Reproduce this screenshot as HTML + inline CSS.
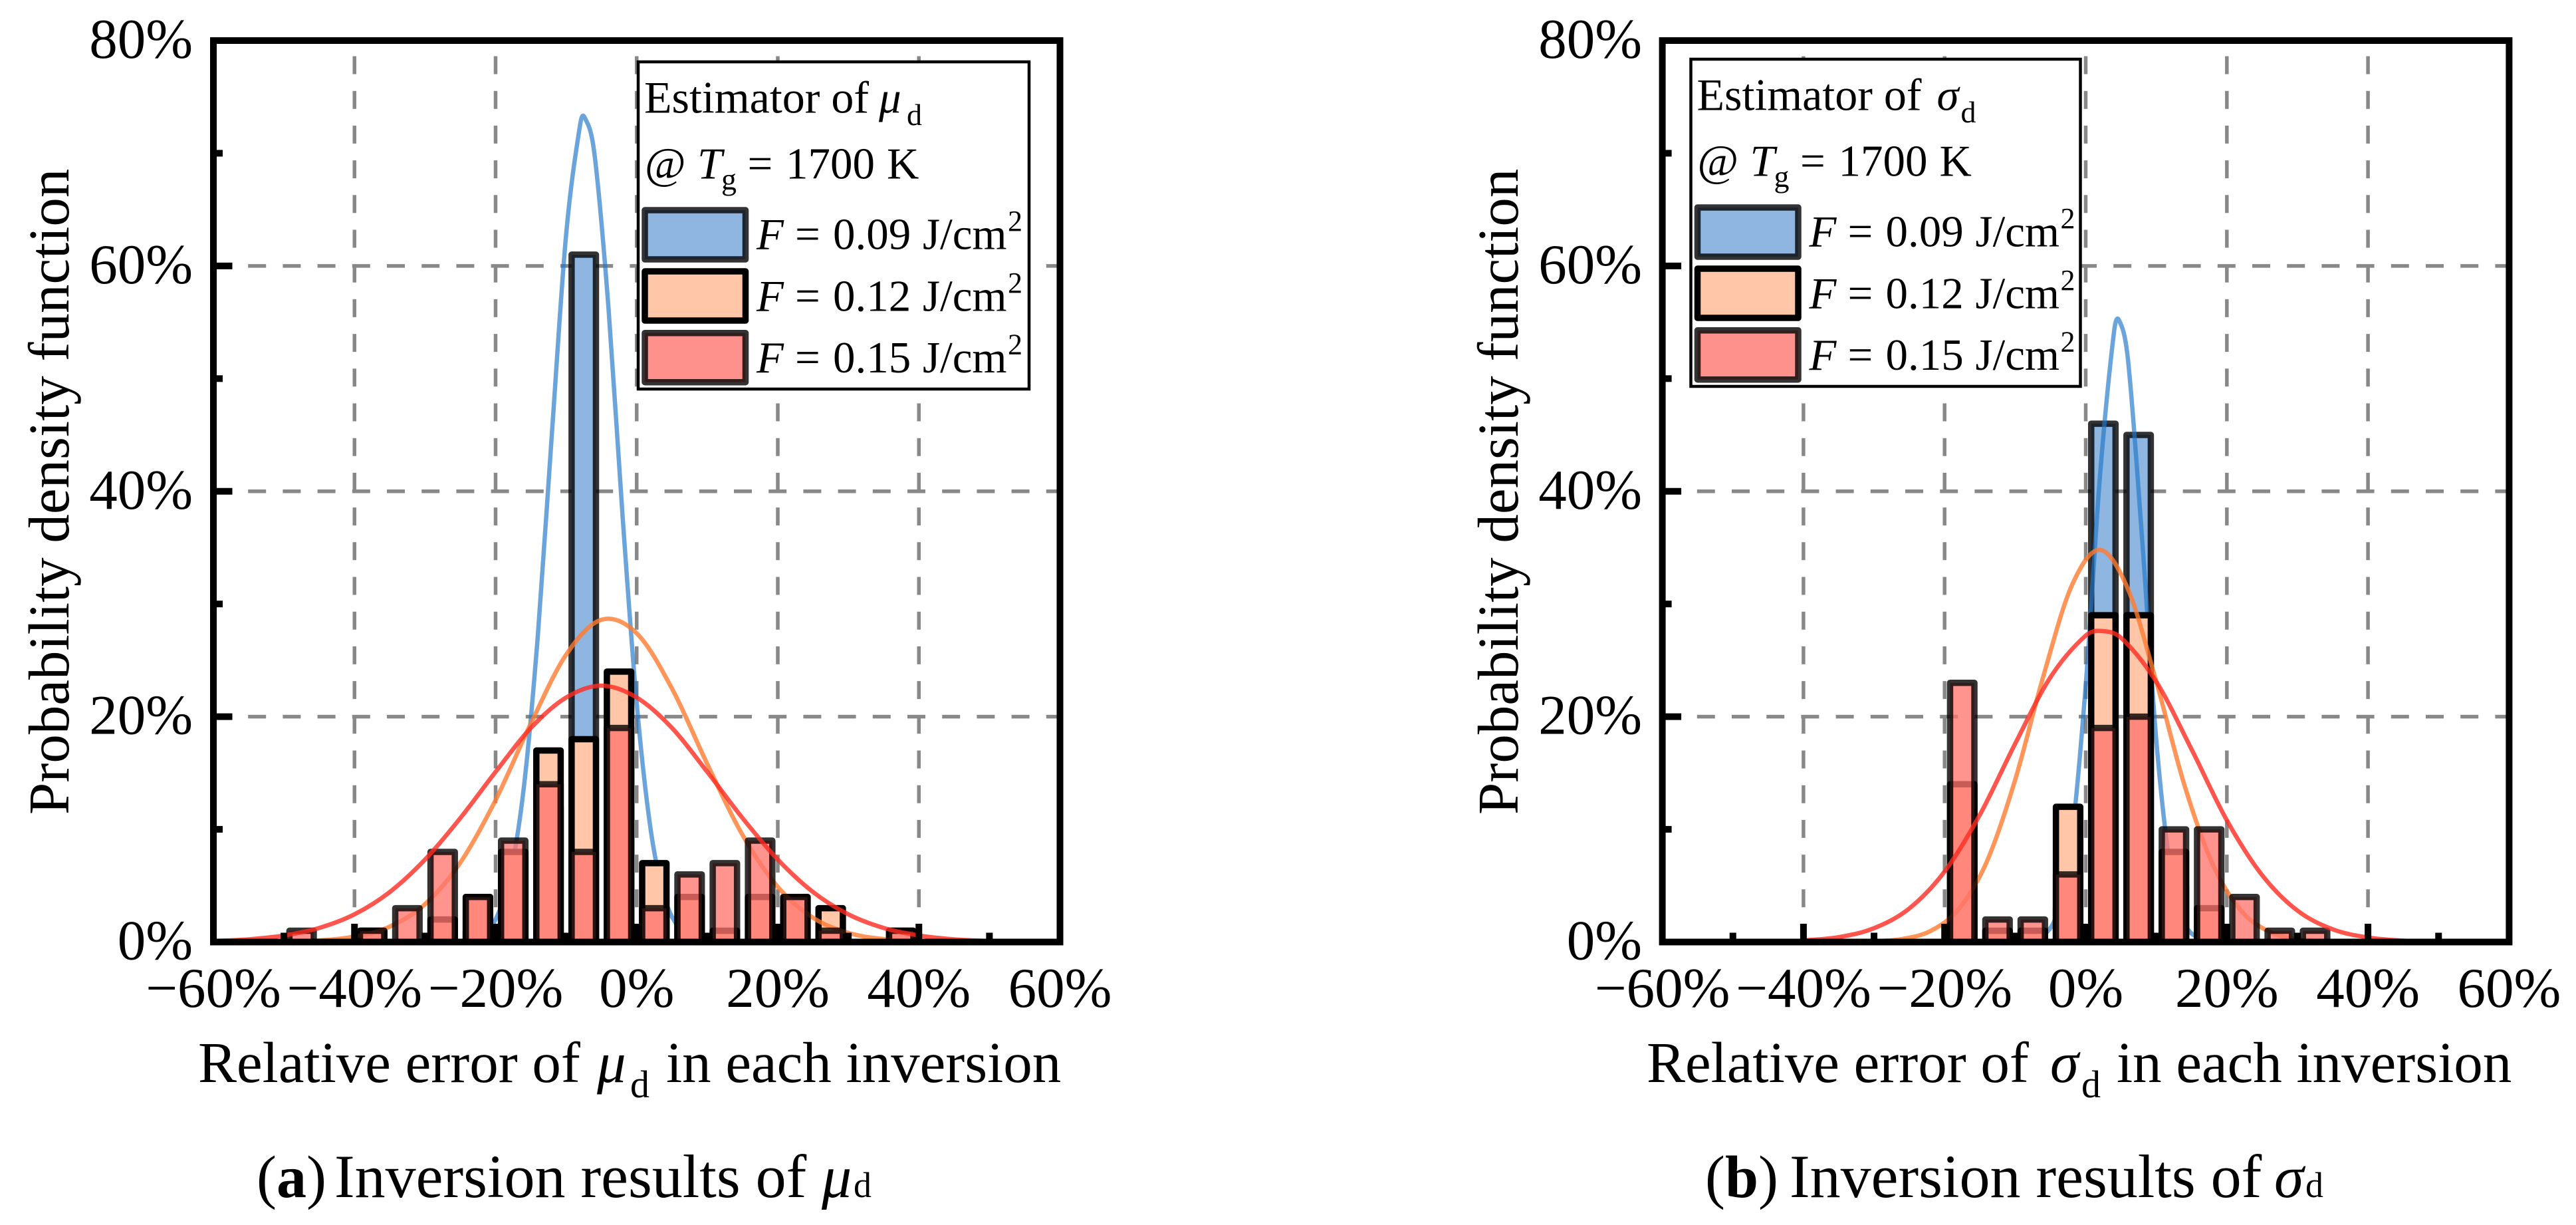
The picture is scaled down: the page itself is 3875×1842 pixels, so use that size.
<!DOCTYPE html>
<html lang="en">
<head>
<meta charset="utf-8">
<title>Inversion results histograms</title>
<style>
html,body{margin:0;padding:0;background:#fff;}
svg{display:block;}
text{font-family:"Liberation Serif","DejaVu Serif",serif;fill:#000;}
.i{font-style:italic;}
.b{font-weight:bold;}
.lg{font-size:67px;}
.sub{font-size:46px;}
.sup{font-size:44px;}
.ax{font-size:87px;}
.tick{font-size:85px;}
.cap{font-size:90px;}
</style>
</head>
<body>
<svg id="figure" xmlns="http://www.w3.org/2000/svg" width="3875" height="1842" viewBox="0 0 3875 1842">
  <rect x="0" y="0" width="3875" height="1842" fill="#fff"/>
  <g id="panel-a"></g>
  <g id="panel-b"></g>

  <text class="ax" transform="translate(103,1225) rotate(-90)">Probability density function</text>
  <g>
    <text class="ax" x="298" y="1627">Relative error of</text>
    <text class="ax i" x="898" y="1627">μ</text>
    <text x="948" y="1650" font-size="58">d</text>
    <text class="ax" x="1002" y="1627">in each inversion</text>
  </g>
  <g>
    <text class="cap" x="386" y="1800">(<tspan class="b">a</tspan>)</text>
    <text class="cap" x="503" y="1800" font-size="92" style="font-size:92px">Inversion results of</text>
    <text class="cap i" x="1236" y="1800">μ</text>
    <text x="1284" y="1800" font-size="54">d</text>
  </g>

  <text class="ax" transform="translate(2283,1225) rotate(-90)">Probability density function</text>
  <g>
    <text class="ax" x="2477" y="1627">Relative error of</text>
    <text class="ax i" x="3084" y="1627">σ</text>
    <text x="3131" y="1650" font-size="58">d</text>
    <text class="ax" x="3184" y="1627">in each inversion</text>
  </g>
  <g>
    <text class="cap" x="2565" y="1800">(<tspan class="b">b</tspan>)</text>
    <text class="cap" x="2692" y="1800" style="font-size:92px">Inversion results of</text>
    <text class="cap i" x="3421" y="1800">σ</text>
    <text x="3468" y="1800" font-size="54">d</text>
  </g>

  <g>
    <rect x="960" y="93" width="588" height="492" fill="#fff" stroke="#000" stroke-width="4.5"/>
    <text class="lg" x="969" y="169.6" style="font-size:68px">Estimator of</text>
    <text class="lg i" x="1322" y="169.6">μ</text>
    <text class="sub" x="1364" y="187.8">d</text>
    <text class="lg" x="970" y="268.4">@</text>
    <text class="lg i" x="1049" y="268.4">T</text>
    <text class="sub" x="1085" y="285">g</text>
    <text class="lg" x="1124.5" y="268.4">=</text>
    <text class="lg" x="1182" y="268.4">1700</text>
    <text class="lg" x="1334" y="268.4">K</text>
    <g>
      <rect x="970" y="316" width="151.5" height="74" fill="#8fb6e0" stroke="#000" stroke-opacity="0.8" stroke-width="9.5" stroke-linejoin="round"/>
      <text class="lg i" x="1138" y="374.5">F</text><text class="lg" x="1196" y="374.5">=</text><text class="lg" x="1253" y="374.5">0.09</text><text class="lg" x="1388" y="374.5">J/cm</text><text class="sup" x="1516" y="347">2</text>
    </g>
    <g>
      <rect x="970" y="408" width="151.5" height="74" fill="#ffc6a8" stroke="#000" stroke-width="9.5" stroke-linejoin="round"/>
      <text class="lg i" x="1138" y="467.4">F</text><text class="lg" x="1196" y="467.4">=</text><text class="lg" x="1253" y="467.4">0.12</text><text class="lg" x="1388" y="467.4">J/cm</text><text class="sup" x="1516" y="440">2</text>
    </g>
    <g>
      <rect x="970" y="500.7" width="151.5" height="74" fill="#ff918c" stroke="#000" stroke-opacity="0.8" stroke-width="9.5" stroke-linejoin="round"/>
      <text class="lg i" x="1138" y="560">F</text><text class="lg" x="1196" y="560">=</text><text class="lg" x="1253" y="560">0.15</text><text class="lg" x="1388" y="560">J/cm</text><text class="sup" x="1516" y="532.6">2</text>
    </g>
  </g>

  <g transform="translate(1583.5,-4)">
    <rect x="960" y="93" width="586" height="492" fill="#fff" stroke="#000" stroke-width="4.5"/>
    <text class="lg" x="969" y="169.6" style="font-size:68px">Estimator of</text>
    <text class="lg i" x="1330" y="169.6">σ</text>
    <text class="sub" x="1366" y="187.8">d</text>
    <text class="lg" x="970" y="268.4">@</text>
    <text class="lg i" x="1049" y="268.4">T</text>
    <text class="sub" x="1085" y="285">g</text>
    <text class="lg" x="1124.5" y="268.4">=</text>
    <text class="lg" x="1182" y="268.4">1700</text>
    <text class="lg" x="1334" y="268.4">K</text>
    <g>
      <rect x="970" y="316" width="151.5" height="74" fill="#8fb6e0" stroke="#000" stroke-opacity="0.8" stroke-width="9.5" stroke-linejoin="round"/>
      <text class="lg i" x="1138" y="374.5">F</text><text class="lg" x="1196" y="374.5">=</text><text class="lg" x="1253" y="374.5">0.09</text><text class="lg" x="1388" y="374.5">J/cm</text><text class="sup" x="1516" y="347">2</text>
    </g>
    <g>
      <rect x="970" y="408" width="151.5" height="74" fill="#ffc6a8" stroke="#000" stroke-width="9.5" stroke-linejoin="round"/>
      <text class="lg i" x="1138" y="467.4">F</text><text class="lg" x="1196" y="467.4">=</text><text class="lg" x="1253" y="467.4">0.12</text><text class="lg" x="1388" y="467.4">J/cm</text><text class="sup" x="1516" y="440">2</text>
    </g>
    <g>
      <rect x="970" y="500.7" width="151.5" height="74" fill="#ff918c" stroke="#000" stroke-opacity="0.8" stroke-width="9.5" stroke-linejoin="round"/>
      <text class="lg i" x="1138" y="560">F</text><text class="lg" x="1196" y="560">=</text><text class="lg" x="1253" y="560">0.15</text><text class="lg" x="1388" y="560">J/cm</text><text class="sup" x="1516" y="532.6">2</text>
    </g>
  </g>
</svg>

<script>
// ---- shared axis data ----
const yMajorTicks = [0, 20, 40, 60, 80];
const yMinorTicks = [10, 30, 50, 70];
const yGridValues = [20, 40, 60];
const xMajorTicks = [-60, -40, -20, 0, 20, 40, 60];
const xMinorTicks = [-50, -30, -10, 10, 30, 50];
const xGridValues = [-40, -20, 0, 20, 40];
const yTickLabels = ['0%', '20%', '40%', '60%', '80%'];
const xTickLabels = ['\u221260%', '\u221240%', '\u221220%', '0%', '20%', '40%', '60%'];
const barWidthPct = 3.45;

// ---- panel (a) histogram values, % ----
const aBinCenters = [-47.5, -37.5, -32.5, -27.5, -22.5, -17.5, -12.5, -7.5, -2.5, 2.5, 7.5, 12.5, 17.5, 22.5, 27.5, 37.5];
const aBarsBlue   = [0, 0, 0, 0, 1, 2, 12, 61, 19, 3, 2, 0, 0, 0, 0, 0];
const aBarsOrange = [0, 1, 0, 2, 4, 8, 17, 18, 24, 7, 4, 1, 4, 4, 3, 1];
const aBarsRed    = [1, 1, 3, 8, 4, 9, 14, 8, 19, 3, 6, 7, 9, 4, 1, 1];

// ---- panel (a) fitted curves ----
const aCurveBlueX = [-24, -22, -20, -18, -16, -14, -12, -10, -8, -7.4, -6, -4, -2, 0, 2, 4, 6, 8, 10];
const aCurveBlueY = [0.14, 0.59, 2.01, 5.76, 13.7, 27.3, 45.3, 62.8, 72.6, 73.2, 70.0, 56.3, 37.8, 21.2, 9.9, 3.86, 1.26, 0.34, 0.08];
const aCurveOrangeX = [-55, -50, -45, -40, -35, -30, -25, -20, -15, -10, -5, 0, 5, 10, 15, 20, 25, 30, 35, 40, 45];
const aCurveOrangeY = [0, 0.03, 0.14, 0.48, 1.37, 3.36, 7.05, 12.6, 19.4, 25.5, 28.6, 27.4, 22.5, 15.8, 9.5, 4.89, 2.15, 0.81, 0.26, 0.07, 0.02];
const aCurveRedX = [-60, -55, -50, -45, -40, -35, -30, -25, -20, -15, -10, -5, 0, 5, 10, 15, 20, 25, 30, 35, 40, 45, 50, 55];
const aCurveRedY = [0.09, 0.24, 0.58, 1.25, 2.46, 4.44, 7.32, 11.0, 15.1, 19.0, 21.7, 22.75, 21.7, 19.0, 15.1, 11.0, 7.32, 4.44, 2.46, 1.25, 0.58, 0.24, 0.09, 0.03];

// ---- panel (b) histogram values, % ----
const bBinCenters = [-17.5, -12.5, -7.5, -2.5, 2.5, 7.5, 12.5, 17.5, 22.5, 27.5, 32.5];
const bBarsBlue   = [0, 0, 0, 3, 46, 45, 5, 1, 0, 0, 0];
const bBarsOrange = [14, 1, 1, 12, 29, 29, 8, 3, 0, 0, 0];
const bBarsRed    = [23, 2, 2, 6, 19, 20, 10, 10, 4, 1, 1];

// ---- panel (b) fitted curves ----
const bCurveBlueX = [-8, -6, -4, -2, 0, 2, 4, 4.7, 6, 8, 10, 12, 14, 16, 18];
const bCurveBlueY = [0.09, 0.57, 2.67, 9.16, 22.8, 41.2, 54.1, 55.2, 51.6, 35.7, 17.9, 6.56, 1.73, 0.34, 0.05];
const bCurveOrangeX = [-30, -26, -22, -18, -14, -10, -6, -2, 2, 6, 10, 14, 18, 22, 26, 30, 34];
const bCurveOrangeY = [0.06, 0.27, 0.98, 2.93, 7.16, 14.4, 23.6, 31.6, 34.8, 31.3, 23.1, 13.9, 6.89, 2.79, 0.92, 0.25, 0.06];
const bCurveRedX = [-40, -35, -30, -25, -20, -15, -10, -5, 0, 2.3, 5, 10, 15, 20, 25, 30, 35, 40, 45, 50];
const bCurveRedY = [0.13, 0.43, 1.23, 2.98, 6.26, 11.3, 17.6, 23.5, 27.2, 27.6, 27.0, 23.1, 17.1, 10.8, 5.93, 2.79, 1.13, 0.40, 0.12, 0.03];

const NS = 'http://www.w3.org/2000/svg';
function make(parent, tag, attrs) {
  const n = document.createElementNS(NS, tag);
  for (const k in attrs) n.setAttribute(k, attrs[k]);
  parent.appendChild(n);
  return n;
}
const plotTop = 61, plotBottom = 1416.5;
function yScale(v) { return plotBottom + (plotTop - plotBottom) * (v / 80); }

function smoothPath(xs, ys, xScale) {
  const px = xs.map(xScale), py = ys.map(yScale), n = px.length, m = [];
  for (let i = 0; i < n; i++) {
    const a = Math.max(0, i - 1), b = Math.min(n - 1, i + 1);
    m.push((py[b] - py[a]) / (px[b] - px[a]));
  }
  let d = 'M' + px[0].toFixed(2) + ' ' + py[0].toFixed(2);
  for (let i = 0; i < n - 1; i++) {
    const h = px[i + 1] - px[i];
    d += ' C' + (px[i] + h / 3).toFixed(2) + ' ' + (py[i] + m[i] * h / 3).toFixed(2) +
         ' ' + (px[i + 1] - h / 3).toFixed(2) + ' ' + (py[i + 1] - m[i + 1] * h / 3).toFixed(2) +
         ' ' + px[i + 1].toFixed(2) + ' ' + py[i + 1].toFixed(2);
  }
  return d;
}

function drawBars(g, centers, values, xScale, fill, strokeOpacity) {
  centers.forEach(function (c, i) {
    const v = values[i];
    if (v <= 0) return;
    const x0 = xScale(c - barWidthPct / 2), x1 = xScale(c + barWidthPct / 2);
    const r = make(g, 'rect', {
      x: x0, y: yScale(v), width: x1 - x0, height: yScale(0) - yScale(v),
      fill: fill, stroke: '#000', 'stroke-opacity': strokeOpacity,
      'stroke-width': 9.5, 'stroke-linejoin': 'round'
    });
    
    
  });
}

function drawCurve(g, xs, ys, xScale, stroke) {
  const p = make(g, 'path', {
    d: smoothPath(xs, ys, xScale), fill: 'none', stroke: stroke,
    'stroke-width': 6.5, 'stroke-linejoin': 'round'
  });
  
  
}

function drawPanel(g, xLeft, xRight, yLabelRight, centers, bars, curves) {
  const xScale = function (v) { return xLeft + (xRight - xLeft) * (v + 60) / 120; };

  // grid
  yGridValues.forEach(function (v) {
    const l = make(g, 'line', { x1: xLeft, x2: xRight, y1: yScale(v), y2: yScale(v),
      stroke: '#888', 'stroke-width': 5.5, 'stroke-dasharray': '27 25.2' });
    
    
  });
  xGridValues.forEach(function (v) {
    const l = make(g, 'line', { x1: xScale(v), x2: xScale(v), y1: plotBottom, y2: plotTop,
      stroke: '#888', 'stroke-width': 5.5, 'stroke-dasharray': '27 25.2' });
    
    
  });

  // series, stacked back to front
  drawBars(g, centers, bars.blue, xScale, '#8fb6e0', 0.8);
  drawCurve(g, curves.blueX, curves.blueY, xScale, 'rgba(34,119,201,0.67)');
  drawBars(g, centers, bars.orange, xScale, '#ffc6a8', 1);
  drawCurve(g, curves.orangeX, curves.orangeY, xScale, 'rgba(255,122,48,0.8)');
  drawBars(g, centers, bars.red, xScale, 'rgba(255,116,110,0.78)', 0.8);
  drawCurve(g, curves.redX, curves.redY, xScale, 'rgba(255,42,32,0.8)');

  // ticks
  yGridValues.forEach(function (v) {
    const t = make(g, 'line', { x1: xLeft, x2: xLeft + 28.5, y1: yScale(v), y2: yScale(v), stroke: '#000', 'stroke-width': 10 });
    
    
  });
  yMinorTicks.forEach(function (v) {
    const t = make(g, 'line', { x1: xLeft, x2: xLeft + 14, y1: yScale(v), y2: yScale(v), stroke: '#000', 'stroke-width': 10 });
    
    
  });
  xGridValues.forEach(function (v) {
    const t = make(g, 'line', { x1: xScale(v), x2: xScale(v), y1: plotBottom, y2: plotBottom - 27.5, stroke: '#000', 'stroke-width': 10 });
    
    
  });
  xMinorTicks.forEach(function (v) {
    const t = make(g, 'line', { x1: xScale(v), x2: xScale(v), y1: plotBottom, y2: plotBottom - 14, stroke: '#000', 'stroke-width': 10 });
    
    
  });

  // frame
  const f = make(g, 'rect', { x: xLeft, y: plotTop, width: xRight - xLeft, height: plotBottom - plotTop,
    fill: 'none', stroke: '#000', 'stroke-width': 10 });
  
  

  // tick labels
  yMajorTicks.forEach(function (v, i) {
    const t = make(g, 'text', { class: 'tick', x: yLabelRight, y: yScale(v) + 26, 'text-anchor': 'end' });
    t.textContent = yTickLabels[i];
    
    
  });
  xMajorTicks.forEach(function (v, i) {
    const t = make(g, 'text', { class: 'tick', x: xScale(v), y: 1514, 'text-anchor': 'middle' });
    t.textContent = xTickLabels[i];
    
    
  });
}

drawPanel(document.getElementById('panel-a'), 321, 1594.5, 290, aBinCenters,
  { blue: aBarsBlue, orange: aBarsOrange, red: aBarsRed },
  { blueX: aCurveBlueX, blueY: aCurveBlueY, orangeX: aCurveOrangeX, orangeY: aCurveOrangeY, redX: aCurveRedX, redY: aCurveRedY });

drawPanel(document.getElementById('panel-b'), 2500.6, 3774.4, 2470, bBinCenters,
  { blue: bBarsBlue, orange: bBarsOrange, red: bBarsRed },
  { blueX: bCurveBlueX, blueY: bCurveBlueY, orangeX: bCurveOrangeX, orangeY: bCurveOrangeY, redX: bCurveRedX, redY: bCurveRedY });
</script>
</body>
</html>
